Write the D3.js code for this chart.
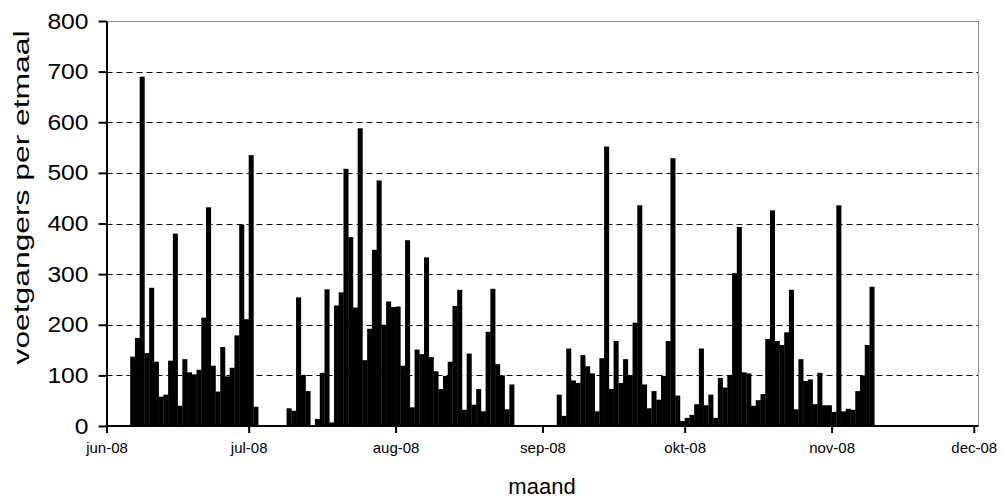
<!DOCTYPE html>
<html><head><meta charset="utf-8">
<script src="https://cdn.jsdelivr.net/npm/d3@7"></script>
<style>body{margin:0;background:#fff}</style>
</head><body>
<svg id="chart" width="1005" height="500"></svg>
<script>
// ---- data (one value per day, null = no measurement) ----
const startDate = "2008-06-01";
const endDate = "2008-12-02";
const juneValues = [null,null,null,null,null,137,174,690,144,273,127,58,62,129,380,40,132,106,102,111,214,432,119,68,156,98,115,179,398,211];
const julyValues = [535,38,null,null,null,null,null,null,35,30,254,101,69,0,14,105,270,7,238,264,508,373,234,588,130,192,348,485,200,246,235];
const augustValues = [236,119,367,37,151,142,333,136,108,73,99,127,237,269,32,143,42,73,29,186,271,122,100,33,82,null,null,null,null,null,null];
const septemberValues = [null,null,null,62,20,153,90,85,140,118,104,29,134,552,73,168,85,132,100,204,436,82,35,69,52,99,168,529,60,10];
const octoberValues = [16,22,43,153,41,62,16,95,76,101,302,393,106,104,40,51,63,172,426,168,160,185,269,33,132,89,92,43,105,41,41];
const novemberValues = [28,436,29,34,32,69,100,160,275,null,null,null,null,null,null,null,null,null,null,null,null,null,null,null,null,null,null,null,null,null];
const monthTicks = ["2008-06-01","2008-07-01","2008-08-01","2008-09-01","2008-10-01","2008-11-01","2008-12-01"];
const monthLabels = ["jun-08","jul-08","aug-08","sep-08","okt-08","nov-08","dec-08"];
const yTicks = [0,100,200,300,400,500,600,700,800];
const yTitle = "voetgangers per etmaal";
const xTitle = "maand";

// ---- build ----
const parse = d3.utcParse("%Y-%m-%d");
const allValues = [].concat(juneValues, julyValues, augustValues, septemberValues, octoberValues, novemberValues);
const start = parse(startDate);
const data = allValues.map((v, i) => ({date: d3.utcDay.offset(start, i), value: v})).filter(d => d.value !== null);

const L = 106.5, R = 978.5, T = 21, B = 426;
const svg = d3.select("#chart");
const x = d3.scaleUtc().domain([start, parse(endDate)]).range([L, R]);
const y = d3.scaleLinear().domain([0, 800]).range([B, T]);

const font = "'Liberation Sans', Arial, sans-serif";

// gridlines
svg.append("g").selectAll("line").data(yTicks.filter(t => t > 0 && t < 800)).join("line")
  .attr("x1", L).attr("x2", R).attr("y1", d => Math.round(y(d)) + 0.5).attr("y2", d => Math.round(y(d)) + 0.5)
  .attr("stroke", "#000").attr("stroke-width", 1).attr("stroke-dasharray", "6,4");

// plot border (top, right)
svg.append("path").attr("d", `M${L},${T + 0.5}H${R}V${B}`).attr("fill", "none").attr("stroke", "#8c8c8c").attr("stroke-width", 1);

// bars
svg.append("g").selectAll("rect").data(data).join("rect")
  .attr("x", d => x(d.date))
  .attr("width", d => x(d3.utcDay.offset(d.date, 1)) - x(d.date) + 0.3)
  .attr("y", d => y(d.value))
  .attr("height", d => y(0) - y(d.value))
  .attr("fill", "#000");

// y axis
const yAxis = svg.append("g").attr("transform", `translate(${L},0)`)
  .call(d3.axisLeft(y).tickValues(yTicks).tickSize(8).tickPadding(10).tickSizeOuter(0));
yAxis.select(".domain").attr("stroke-width", 2);
yAxis.selectAll(".tick line").attr("stroke-width", 2);
yAxis.selectAll("text").attr("font-family", font).attr("font-size", 22).attr("fill", "#000")
  .each(function() { const w = this.getComputedTextLength(); d3.select(this).attr("textLength", w * 1.12).attr("lengthAdjust", "spacingAndGlyphs"); });

// x axis
const xAxis = svg.append("g").attr("transform", `translate(0,${B})`)
  .call(d3.axisBottom(x).tickValues(monthTicks.map(parse)).tickFormat((d, i) => monthLabels[i]).tickSize(7).tickPadding(9).tickSizeOuter(0));
xAxis.select(".domain").attr("stroke-width", 2).attr("d", `M${L - 1},0H${R}`);
xAxis.selectAll(".tick line").attr("stroke-width", 2);
xAxis.selectAll("text").attr("font-family", font).attr("font-size", 15).attr("fill", "#000");

// titles
svg.append("text").attr("transform", `translate(29,197.5) rotate(-90)`).attr("text-anchor", "middle")
  .attr("font-family", font).attr("font-size", 22).attr("fill", "#000")
  .attr("textLength", 334).attr("lengthAdjust", "spacingAndGlyphs").text(yTitle);
svg.append("text").attr("x", 542).attr("y", 494).attr("text-anchor", "middle")
  .attr("font-family", font).attr("font-size", 22).attr("fill", "#000").text(xTitle);
</script>
</body></html>
